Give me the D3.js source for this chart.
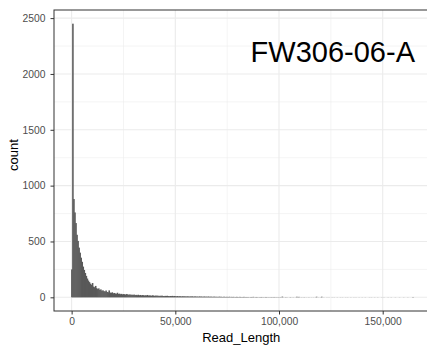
<!DOCTYPE html>
<html>
<head>
<meta charset="utf-8">
<script src="https://cdn.jsdelivr.net/npm/d3@7"></script>
<style>
  body { margin: 0; background: #fff; }
  svg { display: block; font-family: "Liberation Sans", Arial, Helvetica, sans-serif; }
</style>
</head>
<body>
<svg id="chart"></svg>
<script>
// histogram of read lengths, binwidth 500, bins centred on multiples of 500
var binWidth = 500;

var countsHead = [250, 2450, 880, 760, 665, 560, 505, 445, 400, 355, 318, 275, 245, 218, 192, 168, 150, 136, 122, 112,
  128, 96, 90, 102, 82, 74, 80, 66, 71, 58, 63, 55, 52, 61, 48, 45, 62, 42, 40, 45];

var countsMid1 = [36, 39, 34, 32, 41, 30, 33, 28, 31, 26, 29, 27, 24, 30, 25, 23, 26, 22, 24, 21,
  25, 20, 22, 19, 23, 18, 21, 17, 20, 19, 16, 18, 17, 21, 15, 17, 16, 14, 18, 15,
  13, 16, 14, 15, 12, 14, 13, 15, 12, 11, 13, 12, 14, 11, 10, 12, 11, 13, 10, 12];

var countsMid2 = [10, 9, 11, 8, 10, 9, 7, 10, 8, 9, 7, 8, 9, 6, 8, 7, 9, 6, 7, 8, 6, 7, 5, 8, 6, 7, 5, 6, 7, 5,
  6, 5, 7, 4, 6, 5, 4, 6, 5, 4, 5, 3, 6, 4, 5, 3, 4, 5, 3, 4, 4, 3, 5, 2, 4, 3, 4, 2, 3, 4,
  3, 2, 4, 3, 2, 3, 4, 2, 3, 2, 3, 1, 2, 3, 2, 4, 1, 2, 3, 2, 1, 2, 2, 3, 1, 2, 1, 3, 2, 1, 2, 1, 2, 2, 1, 3, 1, 2, 1, 2];

var countsTail = [1, 2, 1, 6, 1, 0, 2, 1, 1, 0, 1, 2, 0, 1, 1, 0, 1, 5, 1, 4,
  0, 1, 1, 0, 2, 0, 1, 0, 1, 1, 0, 1, 0, 1, 0, 1, 5, 0, 1, 0,
  1, 5, 0, 1, 0, 0, 1, 0, 1, 0, 0, 1, 0, 1, 0, 0, 1, 0, 0, 1,
  0, 1, 0, 0, 1, 0, 1, 0, 0, 1, 0, 0, 1, 0, 1, 0, 0, 1, 0, 0,
  1, 0, 0, 1, 0, 0, 0, 1, 0, 1, 0, 0, 1, 0, 0, 1, 0, 0, 0, 1,
  0, 1, 0, 0, 0, 1, 0, 0, 1, 0, 0, 0, 1, 0, 0, 0, 1, 0, 0, 0,
  1, 0, 0, 0, 1, 0, 0, 0, 0, 3];

var xTicks = [0, 50000, 100000, 150000];
var xMinor = [25000, 75000, 125000];
var yTicks = [0, 500, 1000, 1500, 2000, 2500];
var yMinor = [250, 750, 1250, 1750, 2250];
var sampleLabel = "FW306-06-A";

var counts = countsHead.concat(countsMid1, countsMid2, countsTail);
var bins = counts.map(function (c, i) {
  return { x0: i * binWidth - binWidth / 2, x1: i * binWidth + binWidth / 2, count: c };
});

var width = 427, height = 348;
var panel = { left: 54, top: 10, right: 430.4, bottom: 311 };

var svg = d3.select("#chart").attr("width", width).attr("height", height);

// ggplot style 5% expansion
var xLo = d3.min(bins, function (d) { return d.x0; });
var xHi = d3.max(bins, function (d) { return d.x1; });
var xPad = (xHi - xLo) * 0.05;
var x = d3.scaleLinear().domain([xLo - xPad, xHi + xPad]).range([panel.left, panel.right]);

var yHi = d3.max(counts);
var yPad = yHi * 0.05;
var y = d3.scaleLinear().domain([-yPad, yHi + yPad]).range([panel.bottom, panel.top]);

var grid = svg.append("g");
grid.selectAll(".xminor").data(xMinor).enter().append("line")
  .attr("x1", function (d) { return x(d); }).attr("x2", function (d) { return x(d); })
  .attr("y1", panel.top).attr("y2", panel.bottom)
  .attr("stroke", "#ebebeb").attr("stroke-width", 0.55);
grid.selectAll(".yminor").data(yMinor).enter().append("line")
  .attr("x1", panel.left).attr("x2", panel.right)
  .attr("y1", function (d) { return y(d); }).attr("y2", function (d) { return y(d); })
  .attr("stroke", "#ebebeb").attr("stroke-width", 0.55);
grid.selectAll(".xmajor").data(xTicks).enter().append("line")
  .attr("x1", function (d) { return x(d); }).attr("x2", function (d) { return x(d); })
  .attr("y1", panel.top).attr("y2", panel.bottom)
  .attr("stroke", "#ebebeb").attr("stroke-width", 1.1);
grid.selectAll(".ymajor").data(yTicks).enter().append("line")
  .attr("x1", panel.left).attr("x2", panel.right)
  .attr("y1", function (d) { return y(d); }).attr("y2", function (d) { return y(d); })
  .attr("stroke", "#ebebeb").attr("stroke-width", 1.1);

// bars overlap a little so the sub-pixel columns read as a solid mass
svg.append("g").selectAll("rect").data(bins.filter(function (d) { return d.count > 0; })).enter().append("rect")
  .attr("x", function (d) { return x(d.x0); })
  .attr("width", function (d) { return x(d.x1) - x(d.x0) + 0.5; })
  .attr("y", function (d) { return y(d.count); })
  .attr("height", function (d) { return y(0) - y(d.count); })
  .attr("fill", "#595959");

// panel border
svg.append("rect")
  .attr("x", panel.left).attr("y", panel.top)
  .attr("width", panel.right - panel.left).attr("height", panel.bottom - panel.top)
  .attr("fill", "none").attr("stroke", "#333333").attr("stroke-width", 1);

var xAxis = svg.append("g")
  .attr("transform", "translate(0," + panel.bottom + ")")
  .call(d3.axisBottom(x).tickValues(xTicks).tickFormat(d3.format(",")).tickSize(3.5).tickPadding(3));
var yAxis = svg.append("g")
  .attr("transform", "translate(" + panel.left + ",0)")
  .call(d3.axisLeft(y).tickValues(yTicks).tickFormat(d3.format("d")).tickSize(3.5).tickPadding(5));

[xAxis, yAxis].forEach(function (a) {
  a.select(".domain").remove();
  a.selectAll(".tick line").attr("stroke", "#333333");
  a.selectAll(".tick text").attr("fill", "#4d4d4d").style("font-size", "10.3px")
    .style("font-family", "'Liberation Sans', Arial, sans-serif");
});

svg.append("text")
  .attr("x", (panel.left + panel.right) / 2 - 1).attr("y", 341.5)
  .attr("text-anchor", "middle").style("font-size", "13px").attr("fill", "#000")
  .text("Read_Length");

svg.append("text")
  .attr("transform", "translate(18," + 155 + ") rotate(-90)")
  .attr("text-anchor", "middle").style("font-size", "13px").attr("fill", "#000")
  .text("count");

svg.append("text")
  .attr("x", 415).attr("y", 62.3)
  .attr("text-anchor", "end").style("font-size", "29px").attr("fill", "#000")
  .text(sampleLabel);
</script>
</body>
</html>
